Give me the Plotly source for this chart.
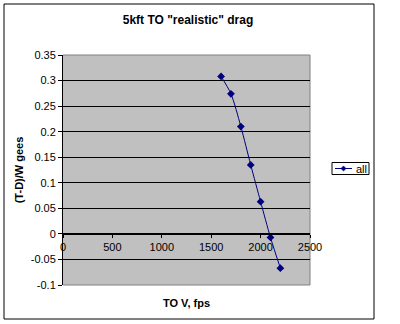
import plotly.graph_objects as go

# Take-off speed (fps) vs excess thrust ratio (T-D)/W in gees
speed_fps = [1600, 1700, 1800, 1900, 2000, 2100, 2200]
excess_gees = [0.308, 0.274, 0.210, 0.135, 0.063, -0.007, -0.067]
series_name = "all"

x_ticks = [0, 500, 1000, 1500, 2000, 2500]
y_ticks = [-0.1, -0.05, 0, 0.05, 0.1, 0.15, 0.2, 0.25, 0.3, 0.35]
y_tick_text = ["-0.1", "-0.05", "0", "0.05", "0.1", "0.15", "0.2", "0.25", "0.3", "0.35"]

FONT = "Liberation Sans, Arial, sans-serif"
NAVY = "#000080"

W, H = 400, 324
ML, MR, MT, MB = 63, 90, 55, 39
PW, PH = W - ML - MR, H - MT - MB


def px_x(px):
    return (px - ML) / PW


def px_y(py):
    return (H - MB - py) / PH


y_min, y_max = -0.1, 0.35
x_axis_pos = (0 - y_min) / (y_max - y_min)

fig = go.Figure()
fig.add_trace(go.Scatter(
    x=speed_fps, y=excess_gees, name=series_name,
    mode="lines+markers",
    line=dict(color=NAVY, width=1, shape="spline", smoothing=0.8),
    marker=dict(symbol="diamond", size=6, color=NAVY),
    showlegend=False,
))

fig.update_layout(
    width=W, height=H,
    margin=dict(l=ML, r=MR, t=MT, b=MB),
    paper_bgcolor="white",
    plot_bgcolor="#C0C0C0",
    font=dict(family=FONT, size=11, color="black"),
    title=dict(text="<b>5kft TO \"realistic\" drag</b>", x=0.506, xref="paper",
               y=1 - 20 / H, yanchor="middle", font=dict(size=12)),
    xaxis=dict(range=[0, 2500], tickvals=x_ticks, ticktext=[str(v) for v in x_ticks],
               showgrid=False, zeroline=False, showline=True, linecolor="black",
               linewidth=1, ticks="outside", ticklen=3, tickcolor="black",
               anchor="free", position=x_axis_pos,
               title=dict(text="<b>TO V, fps</b>", standoff=47, font=dict(size=11))),
    yaxis=dict(range=[y_min, y_max], tickvals=y_ticks, ticktext=y_tick_text,
               showgrid=True, gridcolor="black", gridwidth=1, zeroline=False,
               showline=True, linecolor="black", linewidth=1,
               ticks="outside", ticklen=4, tickcolor="black",
               title=dict(text="<b>(T-D)/W gees</b>", standoff=4, font=dict(size=11))),
)

# Gray frame on the remaining plot-area edges
for x0, y0, x1, y1 in [(0, 1, 1, 1), (1, 0, 1, 1), (0, 0, 1, 0)]:
    fig.add_shape(type="line", xref="paper", yref="paper", x0=x0, y0=y0, x1=x1, y1=y1,
                  line=dict(color="#808080", width=1), layer="below")

# Outer chart border
fig.add_shape(type="rect", xref="paper", yref="paper",
              x0=px_x(4), x1=px_x(374), y0=px_y(319), y1=px_y(4),
              line=dict(color="black", width=1), fillcolor="rgba(0,0,0,0)")

# Compact legend box: line sample with diamond marker and series name
fig.add_shape(type="rect", xref="paper", yref="paper",
              x0=px_x(332), x1=px_x(369), y0=px_y(174.5), y1=px_y(162.5),
              line=dict(color="black", width=1), fillcolor="white", layer="below")
fig.add_shape(type="line", xref="paper", yref="paper",
              x0=px_x(335), x1=px_x(352), y0=px_y(168.5), y1=px_y(168.5),
              line=dict(color=NAVY, width=1))
cx, cy, r = 343.5, 168.5, 2.6
fig.add_shape(type="path", xref="paper", yref="paper",
              path=(f"M {px_x(cx - r)} {px_y(cy)} L {px_x(cx)} {px_y(cy - r)} "
                    f"L {px_x(cx + r)} {px_y(cy)} L {px_x(cx)} {px_y(cy + r)} Z"),
              line=dict(color=NAVY, width=0.5), fillcolor=NAVY)
fig.add_annotation(xref="paper", yref="paper", x=px_x(353.5), y=px_y(168.5),
                   xanchor="left", yanchor="middle", text=series_name,
                   showarrow=False, font=dict(size=11, color="black"))

fig.write_html("out.html")
